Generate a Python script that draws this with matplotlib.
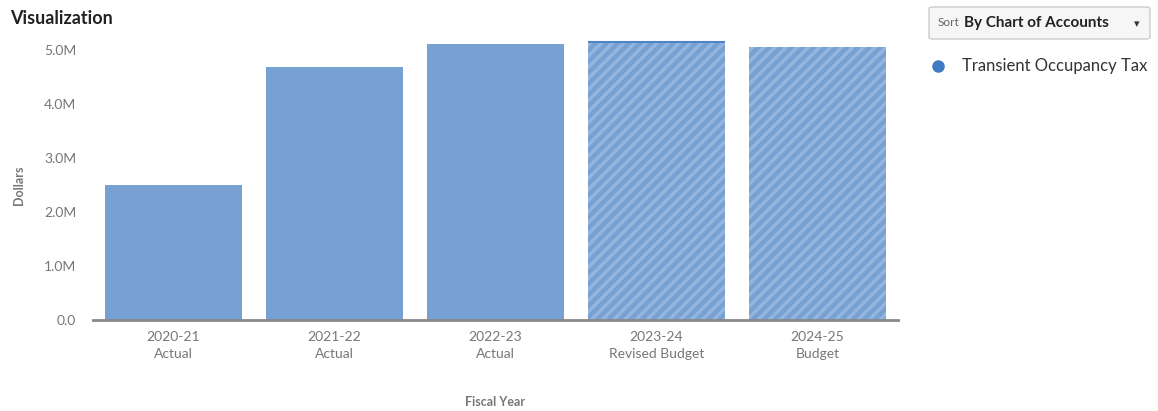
import matplotlib
matplotlib.use("Agg")
import matplotlib.pyplot as plt
from matplotlib.patches import FancyBboxPatch
from matplotlib.ticker import FuncFormatter

plt.rcParams['font.family'] = ['Lato', 'DejaVu Sans']

years = ["2020-21", "2021-22", "2022-23", "2023-24", "2024-25"]
kinds = ["Actual", "Actual", "Actual", "Revised Budget", "Budget"]
values = [2.50e6, 4.69e6, 5.11e6, 5.15e6, 5.06e6]
projected = [False, False, False, True, True]
series_name = "Transient Occupancy Tax"

bar_color = "#77a1d2"
stripe_color = "#93b5de"
grey_text = "#777777"

W, H = 1158, 411
fig = plt.figure(figsize=(W / 100, H / 100), dpi=100)
ax = fig.add_axes([93 / W, 1 - 320 / H, 805 / W, (320 - 28.4) / H])

plt.rcParams['hatch.linewidth'] = 2.5
x = list(range(len(years)))
for xi, v, proj in zip(x, values, projected):
    if proj:
        ax.bar(xi, v, width=0.845, color=bar_color, edgecolor=stripe_color,
               linewidth=0, hatch="///", zorder=2)
    else:
        ax.bar(xi, v, width=0.845, color=bar_color, linewidth=0, zorder=2)

# highlighted top edge on the revised budget bar
ax.hlines(values[3], 3 - 0.4225, 3 + 0.4225, color="#4d86c6", linewidth=1.5, zorder=3)

ax.set_xlim(-0.5, 4.5)
ax.set_ylim(0, 5.4e6)
ax.set_yticks([0, 1e6, 2e6, 3e6, 4e6, 5e6])
ax.yaxis.set_major_formatter(FuncFormatter(lambda v, p: "0.0" if v == 0 else f"{v/1e6:.1f}M"))
ax.set_xticks(x)
ax.set_xticklabels([f"{y}\n{k}" for y, k in zip(years, kinds)])

for s in ["top", "right", "left"]:
    ax.spines[s].set_visible(False)
ax.spines["bottom"].set_color("#888888")
ax.spines["bottom"].set_linewidth(2)
ax.tick_params(axis="both", length=0, colors=grey_text, labelsize=10)
ax.tick_params(axis="x", pad=8)
ax.tick_params(axis="y", pad=12)
for lbl in ax.get_xticklabels():
    lbl.set_linespacing(1.5)

fig.text(10 / W, 1 - 19 / H, "Visualization", fontsize=13, color="#222222",
         fontweight="bold", va="center", ha="left")
fig.text(19 / W, 1 - 185 / H, "Dollars", rotation=90, fontsize=9, color=grey_text,
         fontweight="bold", va="center", ha="center")
fig.text(495 / W, 1 - 402 / H, "Fiscal Year", fontsize=9, color=grey_text,
         fontweight="bold", va="center", ha="center")

# sort dropdown
box = FancyBboxPatch((929 / W, 1 - 39 / H), 221 / W, 32 / H,
                     boxstyle="round,pad=0,rounding_size=0.004",
                     transform=fig.transFigure, facecolor="#f6f6f6",
                     edgecolor="#cccccc", linewidth=1)
fig.add_artist(box)
fig.text(938 / W, 1 - 23 / H, "Sort", fontsize=8.5, color="#666666", va="center", ha="left")
fig.text(964 / W, 1 - 23 / H, "By Chart of Accounts", fontsize=11, color="#222222",
         fontweight="bold", va="center", ha="left")
fig.text(1137 / W, 1 - 24 / H, "\u25BE", fontsize=8, color="#333333", va="center",
         ha="center", family="DejaVu Sans")

# legend
fig.add_artist(plt.Line2D([938 / W], [1 - 66 / H], marker="o", markersize=8,
                          color="#3f7cc2", linestyle="none", transform=fig.transFigure))
fig.text(962 / W, 1 - 66 / H, series_name, fontsize=12, color="#333333",
         va="center", ha="left")

fig.savefig("out.png", dpi=100)
